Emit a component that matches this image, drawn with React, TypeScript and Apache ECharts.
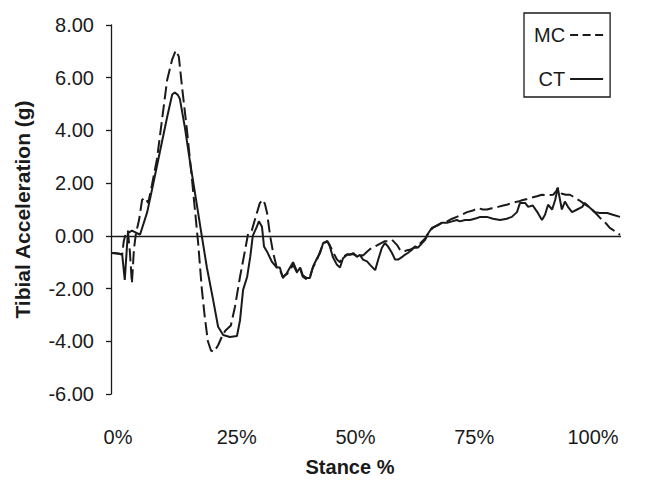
import React, { useEffect, useRef } from "react";
import * as echarts from "echarts";

const ctStance = [0.0, 0.8, 1.6, 2.2, 2.7, 3.3, 4.1, 5.1, 5.7, 7.1, 8.2, 9.6, 11.0, 12.0, 12.5, 13.1, 13.5, 14.5, 15.5, 16.9, 17.8, 18.8, 20.0, 21.0, 22.0, 23.3, 24.7, 25.3, 25.9, 26.7, 27.3, 27.8, 28.6, 29.0, 29.6, 30.0, 30.6, 31.6, 32.5, 33.1, 33.7, 34.5, 35.7, 36.5, 37.1, 37.6, 38.4, 39.0, 39.6, 40.4, 41.0, 41.6, 42.4, 42.9, 43.5, 44.3, 44.9, 45.5, 46.3, 46.9, 47.5, 48.2, 48.8, 49.4, 50.2, 50.8, 51.8, 52.4, 53.1, 53.7, 54.3, 55.1, 55.7, 56.3, 57.1, 57.6, 58.2, 59.0, 59.6, 60.2, 61.0, 61.6, 62.2, 62.9, 63.5, 64.1, 64.9, 65.9, 66.9, 67.8, 68.4, 69.4, 70.4, 71.8, 72.4, 73.7, 74.9, 76.3, 77.6, 78.6, 79.6, 80.2, 81.2, 81.8, 82.7, 83.7, 84.5, 85.1, 85.7, 86.5, 87.1, 87.6, 88.4, 89.0, 89.6, 90.4, 91.4, 92.4, 92.9, 93.9, 94.9, 95.9, 97.3, 98.4, 99.8];
const ctAccel = [-0.65, -0.65, -0.68, -0.72, -1.67, 0.1, 0.2, 0.1, 0.05, 0.9, 1.9, 3.2, 4.5, 5.36, 5.44, 5.35, 5.2, 4.1, 2.8, 1.1, 0.0, -1.2, -2.4, -3.45, -3.76, -3.84, -3.8, -3.2, -2.05, -1.55, -0.8, 0.0, 0.35, 0.55, 0.35, -0.4, -0.6, -1.0, -1.2, -1.2, -1.6, -1.4, -1.0, -1.37, -1.2, -1.5, -1.6, -1.6, -1.17, -0.85, -0.65, -0.27, -0.2, -0.4, -0.8, -1.1, -1.2, -0.85, -0.72, -0.72, -0.65, -0.8, -0.72, -0.9, -0.97, -1.1, -1.3, -0.9, -0.46, -0.27, -0.4, -0.65, -0.9, -0.9, -0.8, -0.72, -0.65, -0.53, -0.4, -0.45, -0.27, -0.15, 0.1, 0.3, 0.35, 0.4, 0.5, 0.5, 0.55, 0.6, 0.55, 0.6, 0.6, 0.68, 0.72, 0.72, 0.65, 0.6, 0.65, 0.72, 0.9, 1.25, 1.25, 1.1, 1.15, 0.87, 0.6, 0.8, 1.18, 1.0, 1.37, 1.82, 1.0, 1.3, 1.1, 0.9, 1.0, 1.1, 1.25, 1.07, 0.9, 0.87, 0.87, 0.8, 0.72];

const mcStance = [0.0, 1.6, 2.2, 2.5, 2.9, 3.3, 3.7, 4.1, 4.5, 4.9, 5.5, 6.1, 6.7, 7.3, 8.0, 9.0, 10.0, 11.0, 12.0, 12.7, 13.3, 13.9, 14.9, 15.9, 16.5, 17.1, 17.8, 18.4, 19.0, 19.6, 20.2, 21.0, 21.8, 22.4, 23.5, 24.3, 25.3, 26.3, 26.9, 27.6, 28.6, 29.2, 29.8, 30.2, 30.6, 31.2, 31.8, 32.5, 33.1, 33.7, 34.5, 35.1, 35.7, 36.5, 37.1, 37.6, 38.4, 39.0, 39.6, 40.4, 41.0, 41.6, 42.4, 42.9, 43.5, 44.3, 44.9, 45.5, 46.3, 46.9, 47.5, 48.2, 48.8, 49.4, 50.2, 50.8, 51.8, 52.7, 53.7, 54.3, 55.1, 56.1, 56.7, 57.3, 58.0, 58.6, 59.4, 60.0, 60.8, 61.6, 62.2, 63.1, 63.9, 64.9, 65.9, 66.9, 67.8, 68.8, 69.8, 70.8, 72.0, 72.9, 73.7, 74.7, 75.9, 76.9, 77.6, 78.6, 79.8, 80.6, 81.6, 82.5, 83.5, 84.5, 85.5, 86.7, 87.3, 87.6, 88.4, 89.2, 90.0, 91.0, 91.8, 92.5, 93.3, 94.3, 95.1, 95.9, 96.7, 97.3, 97.8, 98.4, 99.2, 99.8];
const mcAccel = [-0.65, -0.68, -0.7, -0.2, 0.1, 0.2, -0.6, -1.8, -0.5, 0.1, 0.6, 1.37, 1.45, 1.25, 1.9, 2.9, 4.4, 5.9, 6.7, 7.03, 6.8, 5.7, 4.0, 2.1, 0.9, -0.3, -2.0, -3.1, -4.0, -4.35, -4.4, -4.15, -3.8, -3.6, -3.4, -2.7, -1.55, -0.53, 0.1, 0.2, 0.87, 1.25, 1.37, 1.2, 0.87, 0.0, -0.65, -1.2, -1.3, -1.55, -1.45, -1.3, -1.1, -1.4, -1.25, -1.55, -1.65, -1.55, -1.2, -0.9, -0.6, -0.3, -0.2, -0.35, -0.6, -0.9, -1.0, -0.8, -0.7, -0.7, -0.7, -0.75, -0.7, -0.75, -0.6, -0.5, -0.4, -0.3, -0.2, -0.2, -0.15, -0.35, -0.55, -0.6, -0.55, -0.53, -0.45, -0.45, -0.25, -0.1, 0.1, 0.3, 0.4, 0.5, 0.55, 0.65, 0.72, 0.8, 0.9, 0.95, 1.05, 1.0, 1.0, 1.05, 1.1, 1.15, 1.18, 1.25, 1.3, 1.35, 1.4, 1.45, 1.5, 1.56, 1.55, 1.56, 1.7, 1.82, 1.6, 1.56, 1.56, 1.44, 1.35, 1.25, 1.15, 1.0, 0.85, 0.68, 0.55, 0.42, 0.3, 0.23, 0.12, 0.04];

const stanceTicks = [0, 25, 50, 75, 100];
const seriesNames = ["MC", "CT"];

const FONT = "'Liberation Sans', Arial, Helvetica, sans-serif";
const INK = "#1a1a1a";

const DASH_ICON = "path://M0,0h8v2h-8zM12.5,0h8v2h-8zM25,0h8v2h-8z";
const SOLID_ICON = "path://M0,0h33v2h-33z";

export default function App() {
  const ref = useRef<HTMLDivElement>(null);
  useEffect(() => {
    if (!ref.current) return;
    const chart = echarts.init(ref.current, undefined, { renderer: "svg" });
    const mcData = mcStance.map((s, i) => [s, mcAccel[i]]);
    const ctData = ctStance.map((s, i) => [s, ctAccel[i]]);
    chart.setOption({
      animation: false,
      backgroundColor: "#ffffff",
      grid: { left: 111, right: 31, top: 25, bottom: 94 },
      xAxis: [
        {
          type: "value",
          min: 0,
          max: 100,
          show: false,
        },
        {
          type: "value",
          min: -1.47,
          max: 105.9,
          position: "bottom",
          axisLine: { show: false },
          axisTick: { show: false },
          splitLine: { show: false },
          axisLabel: {
            customValues: stanceTicks,
            formatter: (v: number) => `${v}%`,
            fontSize: 20,
            fontFamily: FONT,
            color: INK,
            margin: 33,
          },
        },
      ],
      yAxis: {
        type: "value",
        min: -6,
        max: 8,
        interval: 2,
        name: "Tibial Acceleration (g)",
        nameLocation: "middle",
        nameGap: 78,
        nameTextStyle: { fontSize: 21, fontWeight: "bold", fontFamily: FONT, color: INK },
        axisLine: { show: true, lineStyle: { color: INK, width: 1.3 } },
        axisTick: { show: true, length: 5, lineStyle: { color: INK, width: 1.3 } },
        splitLine: { show: false },
        axisLabel: {
          formatter: (v: number) => v.toFixed(2),
          fontSize: 20,
          fontFamily: FONT,
          color: INK,
          margin: 17,
        },
      },
      legend: {
        orient: "vertical",
        left: 524,
        top: 13,
        align: "right",
        itemWidth: 33,
        itemHeight: 14,
        itemGap: 24,
        symbolKeepAspect: true,
        padding: [12, 7, 8, 10],
        borderColor: INK,
        borderWidth: 1.3,
        itemStyle: { color: INK, borderWidth: 0 },
        textStyle: { fontSize: 20, fontFamily: FONT, color: INK, width: 45 },
        data: [
          { name: seriesNames[0], icon: DASH_ICON },
          { name: seriesNames[1], icon: SOLID_ICON },
        ],
      },
      graphic: [
        {
          type: "text",
          x: 350,
          y: 467,
          style: {
            text: "Stance %",
            fontSize: 20,
            fontWeight: "bold",
            fontFamily: FONT,
            fill: INK,
            textAlign: "center",
            textVerticalAlign: "middle",
          },
        },
      ],
      series: [
        {
          name: seriesNames[0],
          type: "line",
          xAxisIndex: 0,
          data: mcData,
          showSymbol: false,
          symbol: "none",
          lineStyle: { color: INK, width: 2, type: [13, 5] },
          itemStyle: { color: INK },
        },
        {
          name: seriesNames[1],
          type: "line",
          xAxisIndex: 0,
          data: ctData,
          showSymbol: false,
          symbol: "none",
          lineStyle: { color: INK, width: 2, type: "solid" },
          itemStyle: { color: INK },
          markLine: {
            silent: true,
            symbol: "none",
            label: { show: false },
            lineStyle: { color: INK, width: 1.3, type: "solid" },
            data: [{ yAxis: 0 }],
          },
        },
      ],
    });
    return () => chart.dispose();
  }, []);
  return (
    <div
      ref={ref}
      style={{ position: "fixed", left: 0, top: 0, width: 652, height: 488, background: "#fff" }}
    />
  );
}
